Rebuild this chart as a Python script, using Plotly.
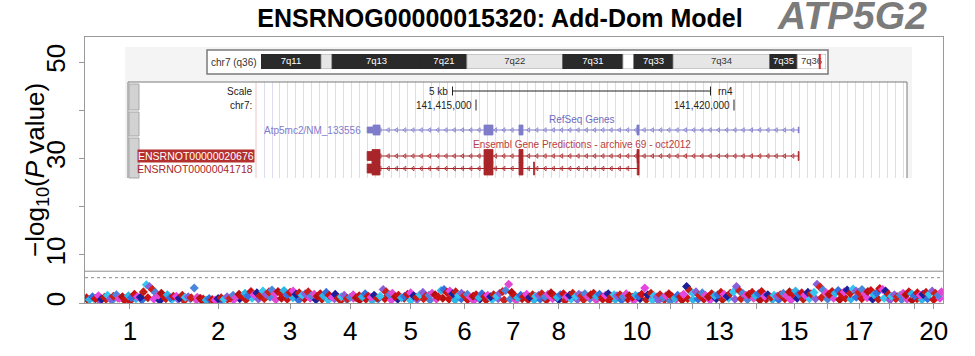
import numpy as np
import plotly.graph_objects as go

# ======================= DATA =======================
CHROM_LEN_MB = [267.9, 258.2, 171.1, 187.4, 173.1, 147.6, 143.0, 129.2, 113.4, 110.7,
                87.8, 46.8, 111.2, 112.2, 109.8, 90.2, 97.3, 87.3, 59.2, 55.3]
X_TICK_TEXT = ["1", "2", "3", "4", "5", "6", "7", "8", "", "10",
               "", "", "13", "", "15", "", "17", "", "", "20"]
Y_TICK_VALS = [0, 10, 20, 30, 40, 50]
Y_TICK_TEXT = ["0", "10", "", "30", "", "50"]
GENOMEWIDE_LINE = 6.6
SUGGESTIVE_LINE = 5.25

# upper points of each chromosome (-log10 P)
TOP_CHR1 = [1.1, 0.7, 1.3, 0.9, 1.5, 0.8, 1.2, 1.6, 0.9, 1.4, 1.7, 1.0, 1.3, 0.8, 1.5,
            1.1, 1.8, 1.3, 1.2, 2.3, 3.8, 3.4, 2.8, 2.2, 1.6, 2.0, 1.3, 1.7, 1.1, 1.4]
TOP_CHR2 = [1.4, 1.0, 1.6, 1.2, 1.3, 1.1, 3.1, 1.2, 1.0, 0.8, 0.6, 0.9, 0.7, 0.6, 0.9,
            1.1, 0.8, 1.3, 1.0, 1.6, 1.2, 1.8, 1.4, 2.0, 1.5, 2.4, 1.7, 2.1, 1.5]
TOP_CHR3 = [2.5, 1.8, 2.3, 2.7, 1.9, 2.4, 2.0, 2.6, 1.7, 2.2, 2.5, 1.8, 2.1, 1.6, 1.9,
            2.3, 1.5, 1.8, 1.4]
TOP_CHR4 = [1.9, 1.5, 2.2, 1.6, 1.2, 1.8, 1.0, 1.3, 1.6, 0.9, 1.2, 1.7, 1.1, 1.5, 1.3,
            1.9, 1.4, 1.2, 1.6, 1.0, 1.4]
TOP_CHR5 = [2.8, 2.3, 1.7, 2.0, 1.3, 1.6, 1.1, 1.4, 1.8, 2.1, 1.5, 1.2, 1.7, 2.2, 1.4,
            1.6, 2.0, 1.7, 1.3]
TOP_CHR6 = [2.6, 2.8, 2.2, 2.5, 1.9, 2.3, 1.6, 2.0, 1.5, 1.8, 1.2, 1.4, 1.7, 1.1, 1.9,
            1.3, 1.6]
TOP_CHR7 = [1.3, 1.7, 1.4, 2.0, 2.4, 2.6, 3.9, 2.2, 1.5, 1.1, 1.6, 1.3, 1.8, 1.2, 1.7, 1.4]
TOP_CHR8 = [1.6, 1.9, 1.3, 1.8, 2.1, 1.5, 1.2, 1.7, 1.9, 1.3, 1.6, 2.0, 1.4, 1.8]
TOP_CHR9 = [1.5, 1.9, 1.3, 1.7, 2.0, 1.4, 1.8, 1.2, 1.6, 1.9, 1.3, 1.7, 1.5]
TOP_CHR10 = [1.7, 1.3, 1.9, 1.5, 1.2, 1.6, 1.4, 1.8, 3.1, 1.7, 2.0, 1.5]
TOP_CHR11 = [1.3, 1.7, 1.1, 1.5, 1.9, 1.4, 1.0, 1.6, 1.3, 1.8]
TOP_CHR12 = [3.4, 2.6, 2.0, 2.3, 1.6]
TOP_CHR13 = [2.1, 1.6, 1.3, 1.9, 1.5, 1.7, 2.2, 1.8, 1.4, 2.0, 2.3, 3.4]
TOP_CHR14 = [2.5, 2.0, 1.6, 1.8, 2.2, 1.5, 1.9, 2.4, 1.4, 1.7, 1.2, 1.6]
TOP_CHR15 = [1.4, 1.7, 2.0, 1.5, 2.3, 1.9, 2.5, 1.8, 2.1, 1.6, 2.2, 1.9]
TOP_CHR16 = [2.2, 3.9, 3.3, 2.7, 2.1, 1.8, 2.4, 2.0, 2.6, 1.9]
TOP_CHR17 = [2.3, 2.7, 2.0, 2.9, 2.5, 2.2, 2.8, 1.9, 2.4, 2.6, 1.7]
TOP_CHR18 = [2.1, 3.0, 2.8, 2.5, 1.8, 1.4, 1.7, 1.3, 1.6, 2.0]
TOP_CHR19 = [1.7, 2.3, 1.9, 1.5, 2.1, 1.6, 1.8]
TOP_CHR20 = [2.2, 1.8, 2.5, 2.0, 1.6, 2.3]

# lower (dense baseline) points of each chromosome
BASE_CHR1 = [0.6, 0.9, 0.4, 0.8, 0.5, 1.0, 0.7, 0.4, 0.9, 0.6, 1.1, 0.8, 0.5, 0.9, 0.7]
BASE_CHR2 = [0.8, 0.5, 0.9, 0.6, 0.4, 0.7, 0.3, 0.5, 0.8, 0.6, 0.9, 0.7, 1.0, 0.8]
BASE_CHR3 = [0.9, 1.2, 0.7, 1.0, 0.8, 1.1, 0.6, 0.9, 1.0, 0.7]
BASE_CHR4 = [0.8, 0.6, 0.9, 0.5, 0.7, 1.0, 0.6, 0.8, 0.5, 0.9]
BASE_CHR5 = [0.9, 0.6, 0.8, 1.0, 0.5, 0.7, 0.9, 0.6, 0.8]
BASE_CHR6 = [1.0, 0.8, 0.6, 0.9, 0.7, 0.5, 0.8, 0.6]
BASE_CHR7 = [0.7, 0.9, 0.6, 0.8, 0.5, 0.9, 0.7, 0.6]
BASE_CHR8 = [0.8, 0.6, 0.9, 0.7, 0.5, 0.8, 0.7]
BASE_CHR9 = [0.7, 0.9, 0.6, 0.8, 0.5, 0.7]
BASE_CHR10 = [0.6, 0.8, 0.5, 0.9, 0.7, 0.6]
BASE_CHR11 = [0.5, 0.7, 0.4, 0.8, 0.6]
BASE_CHR12 = [0.9, 0.7, 0.8]
BASE_CHR13 = [0.8, 0.6, 0.9, 0.7, 1.0, 0.8]
BASE_CHR14 = [0.9, 0.7, 1.0, 0.6, 0.8, 0.7]
BASE_CHR15 = [0.7, 0.9, 0.6, 1.0, 0.8, 0.9]
BASE_CHR16 = [0.9, 1.1, 0.8, 1.0, 0.7]
BASE_CHR17 = [1.0, 0.8, 1.2, 0.9, 1.1, 0.8]
BASE_CHR18 = [0.8, 1.0, 0.6, 0.9, 0.7]
BASE_CHR19 = [0.8, 0.6, 0.9, 0.7]
BASE_CHR20 = [0.9, 0.7, 1.0]

TITLE = "ENSRNOG00000015320: Add-Dom Model"
GENE_SYMBOL = "ATP5G2"
Y_TITLE = "\u2212log<sub>10</sub>(<i>P</i> value)"

# ---- genome-browser inset data (rn4, chr7) ----
IDEO_BAND_NAMES = ["7q11", "7q12", "7q13", "7q21", "7q22", "7q31", "7q32", "7q33", "7q34", "7q35", "7q36"]
IDEO_BAND_START_MB = [0.0, 15.2, 18.0, 40.5, 52.1, 76.4, 91.6, 94.4, 104.3, 128.8, 135.7]
IDEO_BAND_END_MB = [15.2, 18.0, 40.5, 52.1, 76.4, 91.6, 94.4, 104.3, 128.8, 135.7, 143.0]
IDEO_BAND_STAIN = ["gpos100", "gpos25", "gpos100", "gpos100", "gpos25", "gpos100",
                   "gneg", "gpos100", "gpos25", "gpos100", "gneg"]
IDEO_BAND_LABELLED = [True, False, True, True, True, True, False, True, True, True, True]
IDEO_CHROM_LABEL = "chr7 (q36)"
GENE_POS_MB = 141.415

WIN_START_BP = 141410736
WIN_END_BP = 141423353
COORD_TICKS_BP = [141415000, 141420000]
SCALE_BAR_BP = 5000
SCALE_BAR_LABEL = "5 kb"
ASSEMBLY = "rn4"

REFSEQ_NAME = "Atp5mc2/NM_133556"
REFSEQ_TX = (141412890, 141421260)
REFSEQ_CDS = (141413005, 141418160)
REFSEQ_EXON_STARTS = [141412890, 141415155, 141415833, 141418120, 141421245]
REFSEQ_EXON_ENDS = [141413140, 141415329, 141415911, 141418160, 141421260]

ENS1_NAME = "ENSRNOT00000020676"
ENS1_TX = (141412890, 141421260)
ENS1_CDS = (141412985, 141418160)
ENS1_EXON_STARTS = [141412890, 141415155, 141415833, 141418120, 141421245]
ENS1_EXON_ENDS = [141413140, 141415329, 141415911, 141418160, 141421260]

ENS2_NAME = "ENSRNOT00000041718"
ENS2_TX = (141412890, 141418160)
ENS2_CDS = (141412985, 141418160)
ENS2_EXON_STARTS = [141412890, 141415155, 141415833, 141416115, 141418125]
ENS2_EXON_ENDS = [141413140, 141415329, 141415911, 141416135, 141418160]

# ======================= LAYOUT HELPERS =======================
W, H = 975, 356
ML, MR, MT, MB = 85, 32, 37, 53
PW, PH = W - ML - MR, H - MT - MB
FONT = "Liberation Sans, Arial, Helvetica, sans-serif"


def px_x(px):
    return (px - ML) / PW


def px_y(py):
    return (H - MB - py) / PH


TOPS = [TOP_CHR1, TOP_CHR2, TOP_CHR3, TOP_CHR4, TOP_CHR5, TOP_CHR6, TOP_CHR7, TOP_CHR8,
        TOP_CHR9, TOP_CHR10, TOP_CHR11, TOP_CHR12, TOP_CHR13, TOP_CHR14, TOP_CHR15,
        TOP_CHR16, TOP_CHR17, TOP_CHR18, TOP_CHR19, TOP_CHR20]
BASES = [BASE_CHR1, BASE_CHR2, BASE_CHR3, BASE_CHR4, BASE_CHR5, BASE_CHR6, BASE_CHR7,
         BASE_CHR8, BASE_CHR9, BASE_CHR10, BASE_CHR11, BASE_CHR12, BASE_CHR13, BASE_CHR14,
         BASE_CHR15, BASE_CHR16, BASE_CHR17, BASE_CHR18, BASE_CHR19, BASE_CHR20]

lens = np.array(CHROM_LEN_MB)
offsets = np.concatenate([[0], np.cumsum(lens)[:-1]])
total_len = float(lens.sum())
mids = offsets + lens / 2

# point colour cycle (red, cyan, blue, magenta, navy, violet)
COLOR_CYCLE = ["#CC1111", "#2DB5E8", "#3470E0", "#CC1111", "#E545E0", "#1B1F9A", "#C41A14",
               "#33C6F2", "#8B5FDA", "#D01E18", "#4B86DD", "#E048D0", "#B51010"]


def layer_points(groups, shift):
    xs, ys, cs = [], [], []
    k = shift
    for ci, vals in enumerate(groups):
        n = len(vals)
        pos = offsets[ci] + (np.arange(n) + 0.5) / n * lens[ci]
        for p, v in zip(pos, vals):
            xs.append(p)
            ys.append(v)
            cs.append(COLOR_CYCLE[k % len(COLOR_CYCLE)])
            k += 1
    return xs, ys, cs


fig = go.Figure()
for groups, shift in [(BASES, 6), (TOPS, 0)]:
    xs, ys, cs = layer_points(groups, shift)
    fig.add_trace(go.Scatter(x=xs, y=ys, mode="markers", xaxis="x", yaxis="y",
                             marker=dict(symbol="diamond", size=7, color=cs, line=dict(width=0)),
                             showlegend=False, hoverinfo="skip"))

shapes = []
annotations = []

# threshold lines
shapes.append(dict(type="line", xref="x domain", x0=0, x1=1, yref="y",
                   y0=GENOMEWIDE_LINE, y1=GENOMEWIDE_LINE, line=dict(color="#8a8a8a", width=1)))
shapes.append(dict(type="line", xref="x domain", x0=0, x1=1, yref="y",
                   y0=SUGGESTIVE_LINE, y1=SUGGESTIVE_LINE, line=dict(color="#8a8a8a", width=1, dash="dot")))

# ---- inset: panels ----
shapes.append(dict(type="rect", xref="paper", yref="paper", layer="below",
                   x0=px_x(125), x1=px_x(912), y0=px_y(178), y1=px_y(47),
                   fillcolor="#f4f4f4", line=dict(width=0)))
shapes.append(dict(type="rect", xref="paper", yref="paper", layer="below",
                   x0=px_x(207), x1=px_x(828), y0=px_y(74), y1=px_y(50),
                   fillcolor="#ffffff", line=dict(color="#7a7a7a", width=1.5)))
shapes.append(dict(type="rect", xref="paper", yref="paper", layer="below",
                   x0=px_x(128), x1=px_x(907), y0=px_y(178), y1=px_y(82),
                   fillcolor="#ffffff", line=dict(width=0)))
for (a, b) in [((128, 82), (907, 82)), ((128, 82), (128, 178)), ((907, 82), (907, 178))]:
    shapes.append(dict(type="line", xref="paper", yref="paper",
                       x0=px_x(a[0]), y0=px_y(a[1]), x1=px_x(b[0]), y1=px_y(b[1]),
                       line=dict(color="#7a7a7a", width=1)))
for (y0, y1) in [(84, 110), (112, 136), (138, 178)]:
    shapes.append(dict(type="rect", xref="paper", yref="paper",
                       x0=px_x(129), x1=px_x(139), y0=px_y(y1), y1=px_y(y0),
                       fillcolor="#d2d2d2", line=dict(color="#a8a8a8", width=1)))
shapes.append(dict(type="line", xref="paper", yref="paper",
                   x0=px_x(256), x1=px_x(256), y0=px_y(178), y1=px_y(83),
                   line=dict(color="#ecc4c4", width=1)))

# ---- ideogram ----
STAIN_FILL = {"gpos100": "#2a2a2a", "gpos25": "#e6e6e6", "gneg": "#ffffff"}
STAIN_TEXT = {"gpos100": "#ffffff", "gpos25": "#333333", "gneg": "#333333"}
for s, e, st in zip(IDEO_BAND_START_MB, IDEO_BAND_END_MB, IDEO_BAND_STAIN):
    shapes.append(dict(type="rect", xref="x3", yref="y3", layer="below", x0=s, x1=e, y0=0, y1=1,
                       fillcolor=STAIN_FILL[st],
                       line=dict(color="#2a2a2a" if st == "gpos100" else "#9a9a9a", width=0.8)))
lab_x = [(s + e) / 2 for s, e, f in zip(IDEO_BAND_START_MB, IDEO_BAND_END_MB, IDEO_BAND_LABELLED) if f]
lab_t = [n for n, f in zip(IDEO_BAND_NAMES, IDEO_BAND_LABELLED) if f]
lab_c = [STAIN_TEXT[st] for st, f in zip(IDEO_BAND_STAIN, IDEO_BAND_LABELLED) if f]
fig.add_trace(go.Scatter(x=lab_x, y=[0.5] * len(lab_x), xaxis="x3", yaxis="y3", mode="text",
                         text=lab_t, textfont=dict(size=9.5, color=lab_c, family=FONT),
                         textposition="middle center", showlegend=False, hoverinfo="skip"))
shapes.append(dict(type="line", xref="x3", yref="y3", x0=GENE_POS_MB, x1=GENE_POS_MB,
                   y0=-0.2, y1=1.15, line=dict(color="#e0242a", width=2)))
annotations.append(dict(xref="paper", yref="paper", x=px_x(209), y=px_y(62), xanchor="left",
                        yanchor="middle", text=IDEO_CHROM_LABEL, showarrow=False,
                        font=dict(size=10, color="#333", family=FONT)))

# ---- browser tracks (x2 = genomic bp, y2 = track rows, 0 at top of box) ----
ROW_SCALE, ROW_COORD, ROW_REFSEQ_LABEL, ROW_REFSEQ = 9, 23, 37, 48
ROW_ENS_LABEL, ROW_ENS1, ROW_ENS2 = 62, 74, 86.5
REFSEQ_COLOR, REFSEQ_TEXT = "#7f7cca", "#6f6cbc"
ENS_COLOR, ENS_TEXT = "#a8262a", "#b5403f"

win_center = (WIN_START_BP + WIN_END_BP) / 2
sb0, sb1 = win_center - SCALE_BAR_BP / 2, win_center + SCALE_BAR_BP / 2
shapes.append(dict(type="line", xref="x2", yref="y2", x0=sb0, x1=sb1, y0=ROW_SCALE, y1=ROW_SCALE,
                   line=dict(color="#222", width=1)))
for xb in (sb0, sb1):
    shapes.append(dict(type="line", xref="x2", yref="y2", x0=xb, x1=xb, y0=ROW_SCALE - 4.5,
                       y1=ROW_SCALE + 4.5, line=dict(color="#222", width=1)))
annotations.append(dict(xref="x2", yref="y2", x=sb0, y=ROW_SCALE, xanchor="right", xshift=-3,
                        text=SCALE_BAR_LABEL, showarrow=False, font=dict(size=10, color="#222", family=FONT)))
annotations.append(dict(xref="x2", yref="y2", x=sb1, y=ROW_SCALE, xanchor="left", xshift=6,
                        text=ASSEMBLY, showarrow=False, font=dict(size=10, color="#222", family=FONT)))
for t in COORD_TICKS_BP:
    shapes.append(dict(type="line", xref="x2", yref="y2", x0=t, x1=t, y0=ROW_COORD - 5.5,
                       y1=ROW_COORD + 5.5, line=dict(color="#222", width=1)))
    annotations.append(dict(xref="x2", yref="y2", x=t, y=ROW_COORD, xanchor="right", xshift=-2,
                            text=f"{t:,}", showarrow=False, font=dict(size=10, color="#222", family=FONT)))
annotations.append(dict(xref="x2", yref="y2", x=win_center, y=ROW_REFSEQ_LABEL, text="RefSeq Genes",
                        showarrow=False, font=dict(size=10, color=REFSEQ_TEXT, family=FONT)))
annotations.append(dict(xref="x2", yref="y2", x=win_center, y=ROW_ENS_LABEL,
                        text="Ensembl Gene Predictions - archive 69 - oct2012",
                        showarrow=False, font=dict(size=10, color=ENS_TEXT, family=FONT)))
annotations.append(dict(xref="x2", yref="y2", x=REFSEQ_TX[0], y=ROW_REFSEQ, xanchor="right", xshift=-4,
                        text=REFSEQ_NAME, showarrow=False, font=dict(size=10, color=REFSEQ_COLOR, family=FONT)))
for txt, row in [("Scale", ROW_SCALE), ("chr7:", ROW_COORD)]:
    annotations.append(dict(xref="paper", yref="y2", x=px_x(254), y=row, xanchor="right",
                            text=txt, showarrow=False, font=dict(size=10, color="#222", family=FONT)))
annotations.append(dict(xref="paper", yref="y2", x=px_x(255), y=ROW_ENS1, xanchor="right",
                        text=ENS1_NAME, showarrow=False, bgcolor="#b3302e", borderpad=0,
                        font=dict(size=10.5, color="#ffffff", family=FONT)))
annotations.append(dict(xref="paper", yref="y2", x=px_x(255), y=ROW_ENS2, xanchor="right",
                        text=ENS2_NAME, showarrow=False,
                        font=dict(size=10.5, color=ENS_COLOR, family=FONT)))


def draw_transcript(tx, cds, starts, ends, row, color, thick_h, thin_h):
    shapes.append(dict(type="line", xref="x2", yref="y2", x0=tx[0], x1=tx[1], y0=row, y1=row,
                       line=dict(color=color, width=1)))
    chev = np.arange(tx[0] + 90, tx[1] - 60, 160)
    fig.add_trace(go.Scatter(x=chev, y=[row] * len(chev), xaxis="x2", yaxis="y2", mode="markers",
                             marker=dict(symbol="triangle-left-open", size=4, color=color,
                                         line=dict(width=0.8, color=color)),
                             showlegend=False, hoverinfo="skip"))
    for s, e in zip(starts, ends):
        parts = []
        cs, ce = max(s, cds[0]), min(e, cds[1])
        if cs < ce:
            parts.append((cs, ce, thick_h))
            if s < cs:
                parts.append((s, cs, thin_h))
            if ce < e:
                parts.append((ce, e, thin_h))
        else:
            parts.append((s, e, thin_h))
        for a, b, h in parts:
            shapes.append(dict(type="rect", xref="x2", yref="y2", x0=a, x1=b, y0=row - h, y1=row + h,
                               fillcolor=color, line=dict(color=color, width=0.8)))


draw_transcript(REFSEQ_TX, REFSEQ_CDS, REFSEQ_EXON_STARTS, REFSEQ_EXON_ENDS, ROW_REFSEQ, REFSEQ_COLOR, 5, 3)
draw_transcript(ENS1_TX, ENS1_CDS, ENS1_EXON_STARTS, ENS1_EXON_ENDS, ROW_ENS1, ENS_COLOR, 6.5, 4.5)
draw_transcript(ENS2_TX, ENS2_CDS, ENS2_EXON_STARTS, ENS2_EXON_ENDS, ROW_ENS2, ENS_COLOR, 6.5, 4.5)

# gene symbol at the top right
annotations.append(dict(xref="paper", yref="paper", x=px_x(852), y=px_y(15), xanchor="center",
                        yanchor="middle", text=f"<b><i>{GENE_SYMBOL}</i></b>", showarrow=False,
                        font=dict(size=39, color="#7b7b7b", family=FONT)))
# y-axis title
annotations.append(dict(xref="paper", yref="paper", x=px_x(36), y=px_y(170), xanchor="center",
                        yanchor="middle", textangle=-90, text=Y_TITLE, showarrow=False,
                        font=dict(size=26, color="black", family=FONT)))

fig.update_layout(
    width=W, height=H, autosize=False,
    margin=dict(l=ML, r=MR, t=MT, b=MB, pad=0, autoexpand=False),
    paper_bgcolor="white", plot_bgcolor="white",
    font=dict(family=FONT, color="black"),
    title=dict(text=f"<b>{TITLE}</b>", x=500 / W, xanchor="center", xref="container",
               y=1 - 18 / H, yanchor="middle", yref="container", automargin=False,
               font=dict(size=25, color="black", family=FONT)),
    xaxis=dict(domain=[0, 1], range=[0, total_len], showline=True, mirror=True, automargin=False,
               linecolor="#999", linewidth=1, ticks="outside", ticklen=5, tickcolor="#999",
               tickvals=list(mids), ticktext=X_TICK_TEXT, tickfont=dict(size=26, color="black"),
               showgrid=False, zeroline=False, ticklabelstandoff=0),
    yaxis=dict(domain=[0, 1], range=[0, 55.2], showline=True, mirror=True, automargin=False,
               linecolor="#999", linewidth=1, ticks="outside", ticklen=5, tickcolor="#999",
               tickvals=Y_TICK_VALS, ticktext=Y_TICK_TEXT, tickangle=-90,
               tickfont=dict(size=26, color="black"), showgrid=False, zeroline=False,
               ticklabelstandoff=4),
    xaxis2=dict(domain=[px_x(256), px_x(907)], range=[WIN_START_BP, WIN_END_BP], anchor="y2",
                showgrid=True, gridcolor="#dddcf0", gridwidth=1, tick0=WIN_START_BP, dtick=155,
                showticklabels=False, ticks="", showline=False, zeroline=False, automargin=False),
    yaxis2=dict(domain=[px_y(178), px_y(82)], range=[96, 0], anchor="x2", visible=False),
    xaxis3=dict(domain=[px_x(261), px_x(826)], range=[0, IDEO_BAND_END_MB[-1]], anchor="y3",
                visible=False),
    yaxis3=dict(domain=[px_y(69), px_y(54)], range=[0, 1], anchor="x3", visible=False),
    shapes=shapes, annotations=annotations,
)

fig.write_html("out.html", config={"displayModeBar": False},
               post_script="document.body.style.margin='0';document.body.style.overflow='hidden';")
